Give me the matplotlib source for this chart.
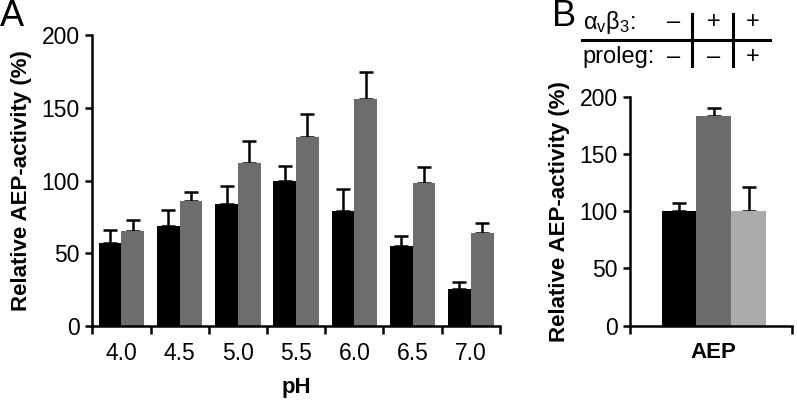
import matplotlib
matplotlib.use("Agg")
import matplotlib.pyplot as plt
from matplotlib.lines import Line2D
import numpy as np

plt.rcParams["font.family"] = ["Liberation Sans", "DejaVu Sans"]
plt.rcParams["mathtext.default"] = "regular"

# ---- data, panel A ----
ph_labels = ["4.0", "4.5", "5.0", "5.5", "6.0", "6.5", "7.0"]
black_vals = [57, 69, 84, 100, 79, 55, 25]
black_err = [9, 11, 12, 10, 15, 7, 5]
grey_vals = [65, 86, 112, 130, 156, 98, 64]
grey_err = [8, 6, 15, 16, 19, 11, 7]

# ---- data, panel B ----
b_vals = [100, 183, 100]
b_err = [7, 7, 21]
b_colors = ["#000000", "#6b6b6b", "#ababab"]
row1_signs = ["–", "+", "+"]
row2_signs = ["–", "–", "+"]

BLACK = "#000000"
GREY = "#6d6d6d"
LW = 1.8

fig = plt.figure(figsize=(7.97, 4.01), dpi=100)


def style_axes(ax):
    for s in ["top", "right"]:
        ax.spines[s].set_visible(False)
    for s in ["left", "bottom"]:
        ax.spines[s].set_linewidth(LW)
    ax.tick_params(axis="y", length=5, width=LW, labelsize=16.5, pad=4)
    ax.set_yticks([0, 50, 100, 150, 200])
    ax.set_ylim(0, 200)


# =========================
# panel A
# =========================
axA = fig.add_axes([0.1158, 0.1875, 0.5115, 0.7245])
x = np.arange(len(ph_labels)) + 0.5
w = 0.39
ekw = dict(fmt="none", ecolor="black", elinewidth=1.8, capsize=5, capthick=1.8)
axA.bar(x - w / 2, black_vals, w, color=BLACK, zorder=2)
axA.bar(x + w / 2, grey_vals, w, color=GREY, zorder=2)
axA.errorbar(x - w / 2, black_vals, yerr=[np.zeros(7), black_err], zorder=1, **ekw)
axA.errorbar(x + w / 2, grey_vals, yerr=[np.zeros(7), grey_err], zorder=1, **ekw)
axA.set_xlim(0, 7)
style_axes(axA)
axA.set_xticks(x)
axA.set_xticklabels(ph_labels)
axA.set_xticks(np.arange(8), minor=True)
axA.tick_params(axis="x", which="major", length=0, labelsize=16.5, pad=12)
axA.tick_params(axis="x", which="minor", length=6, width=LW, direction="out")
axA.set_xlabel("pH", fontsize=16, fontweight="bold", labelpad=8)
axA.set_ylabel("Relative AEP-activity (%)", fontsize=16, fontweight="bold", labelpad=7)

# =========================
# panel B
# =========================
axB = fig.add_axes([0.7905, 0.1878, 0.2033, 0.571])
bx = [0.302, 0.516, 0.732]
bw = 0.215
axB.bar(bx, b_vals, bw, color=b_colors, zorder=2)
axB.errorbar(bx, b_vals, yerr=[np.zeros(3), b_err], zorder=1, **ekw)
axB.set_xlim(0, 1)
style_axes(axB)
axB.set_xticks([0.516])
axB.set_xticklabels(["AEP"], fontweight="bold")
axB.set_xticks([0, 1], minor=True)
axB.tick_params(axis="x", which="major", length=0, labelsize=16, pad=12)
axB.tick_params(axis="x", which="minor", length=6, width=LW, direction="out")
axB.set_ylabel("Relative AEP-activity (%)", fontsize=16, fontweight="bold", labelpad=7)

# table above panel B
y1, y2 = 0.945, 0.858
fig.text(0.731, y1, "α$_v$β$_3$:", fontsize=17, ha="left", va="center")
fig.text(0.731, y2, "proleg:", fontsize=17, ha="left", va="center")
for xs, s1, s2 in zip([0.845, 0.895, 0.945], row1_signs, row2_signs):
    fig.text(xs, y1, s1, fontsize=17, ha="center", va="center")
    fig.text(xs, y2, s2, fontsize=17, ha="center", va="center")
fig.add_artist(Line2D([0.730, 0.966], [0.900, 0.900], color="black", lw=2.2))
for xv in [0.868, 0.920]:
    fig.add_artist(Line2D([xv, xv], [0.835, 0.965], color="black", lw=2.2))

# panel letters
fig.text(0.0, 0.958, "A", fontsize=26, ha="left", va="center")
fig.text(0.692, 0.958, "B", fontsize=26, ha="left", va="center")

fig.savefig("out.png", dpi=100)
